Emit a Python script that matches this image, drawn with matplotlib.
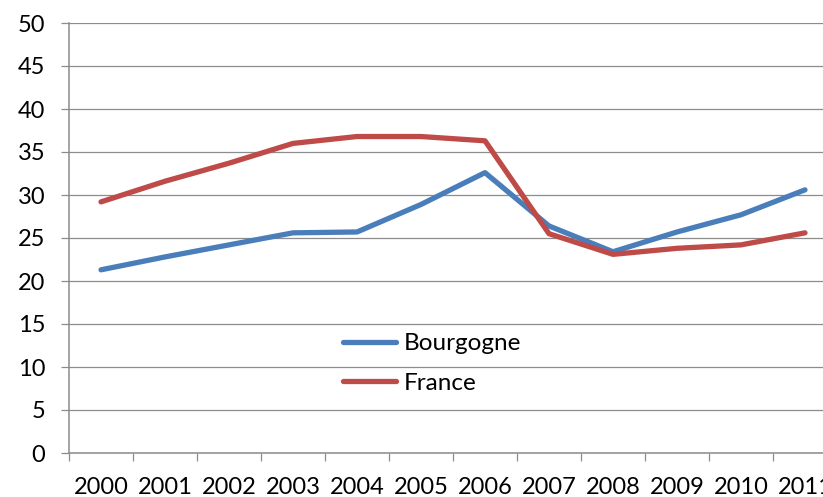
import numpy as np
import matplotlib
matplotlib.use("Agg")
import matplotlib.pyplot as plt

years = ["2000", "2001", "2002", "2003", "2004", "2005",
         "2006", "2007", "2008", "2009", "2010", "2011"]
bourgogne = [21.3, 22.8, 24.2, 25.6, 25.7, 28.9, 32.6, 26.4, 23.4, 25.7, 27.7, 30.6]
france = [29.2, 31.6, 33.7, 36.0, 36.8, 36.8, 36.3, 25.5, 23.1, 23.8, 24.2, 25.6]

BLUE = "#4A7EBB"
RED = "#BE4B48"
GRID = "#8C8C8C"

plt.rcParams['font.family'] = ['Lato', 'DejaVu Sans']

fig = plt.figure(figsize=(8.23, 4.97), dpi=100)
# plot area runs past the right edge, like the exported sheet
ax = fig.add_axes([69 / 823, 1 - 453 / 497, 768 / 823, 430 / 497])

x = np.arange(len(years))
ax.plot(x, bourgogne, color=BLUE, lw=3.8, solid_capstyle="round", label="Bourgogne", zorder=3)
ax.plot(x, france, color=RED, lw=3.8, solid_capstyle="round", label="France", zorder=3)

ax.set_xlim(-0.5, len(years) - 0.5)
ax.set_ylim(0, 50)
ax.set_yticks(np.arange(0, 51, 5))
ax.yaxis.grid(True, color=GRID, lw=0.9)
ax.set_axisbelow(True)

# category labels in the middle, tick marks on the boundaries
ax.set_xticks(x)
ax.set_xticklabels(years)
ax.set_xticks(np.arange(-0.5, len(years)), minor=True)
ax.tick_params(axis="x", which="major", length=0, pad=17, labelsize=17)
ax.tick_params(axis="x", which="minor", length=6, width=0.9, color=GRID, direction="out")
ax.tick_params(axis="y", length=6, width=0.9, color=GRID, pad=11, labelsize=17)

for side in ("top", "right"):
    ax.spines[side].set_visible(False)
for side in ("left", "bottom"):
    ax.spines[side].set_color(GRID)
    ax.spines[side].set_linewidth(1.1)

leg = ax.legend(loc="upper left", bbox_to_anchor=(343 / 823, 1 - 333 / 497),
                bbox_transform=fig.transFigure, frameon=False, fontsize=17.5,
                handlelength=2.2, handletextpad=0.3, labelspacing=0.78,
                borderaxespad=0, borderpad=0)

fig.savefig("out.png", dpi=100)
